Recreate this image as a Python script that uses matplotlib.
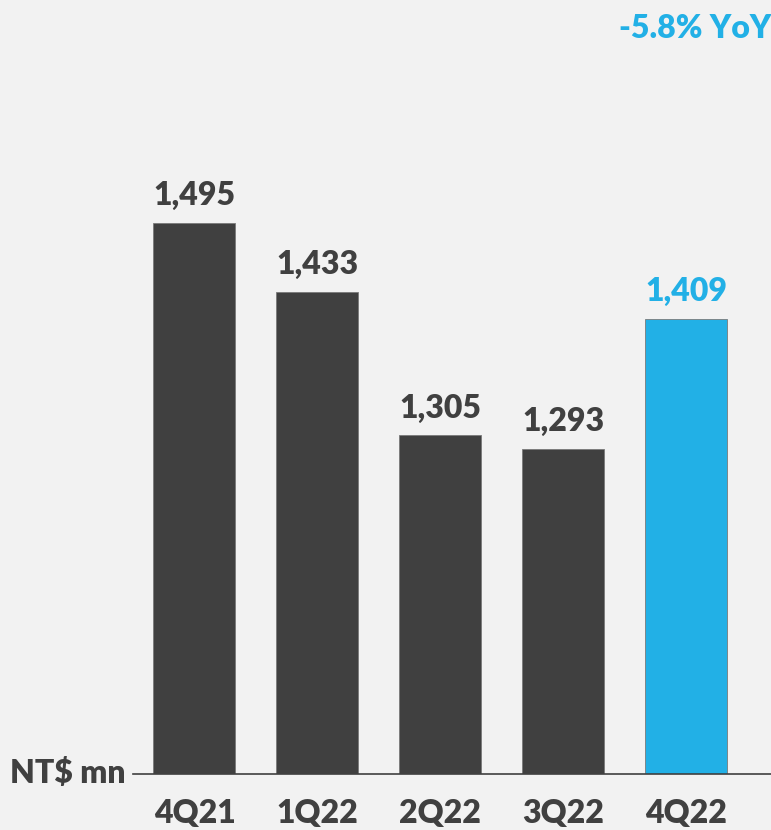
import matplotlib
matplotlib.use("Agg")
import matplotlib.pyplot as plt

categories = ["4Q21", "1Q22", "2Q22", "3Q22", "4Q22"]
values = [1495, 1433, 1305, 1293, 1409]
value_labels = ["1,495", "1,433", "1,305", "1,293", "1,409"]
bar_colors = ["#404040", "#404040", "#404040", "#404040", "#22b0e6"]
label_colors = ["#404040", "#404040", "#404040", "#404040", "#22b0e6"]
yoy_text = "-5.8% YoY"
unit_text = "NT$ mn"

FONT = ["Lato", "DejaVu Sans"]
BG = "#f2f2f2"
W = "heavy"

fig = plt.figure(figsize=(7.71, 8.30), dpi=100, facecolor=BG)
ax = fig.add_axes([133 / 771, 56 / 830, 1 - 133 / 771, 774 / 830])
ax.set_facecolor(BG)

x = list(range(len(categories)))
ax.bar(x, values, width=0.667, color=bar_colors, edgecolor="#7a7a7a", linewidth=0.6, zorder=2)
ax.set_xlim(-0.5, 4.69)
ax.set_ylim(1002, 1694)

for xi, v, lab, c in zip(x, values, value_labels, label_colors):
    ax.annotate(lab, (xi, v), xytext=(0, 9), textcoords="offset points",
                ha="center", va="bottom", fontsize=23, fontweight=W,
                color=c, family=FONT)

for s in ["top", "right", "left"]:
    ax.spines[s].set_visible(False)
ax.spines["bottom"].set_color("#404040")
ax.spines["bottom"].set_linewidth(1.2)
ax.set_yticks([])
ax.set_xticks(x)
ax.set_xticklabels(categories, fontsize=23, fontweight=W, color="#404040", family=FONT)
ax.tick_params(axis="x", length=0, pad=18)

fig.text(125 / 771, 1 - 773 / 830, unit_text, ha="right", va="center", fontsize=23,
         fontweight=W, color="#404040", family=FONT)
fig.text(771 / 771, 1 - 28 / 830, yoy_text, ha="right", va="center", fontsize=23,
         fontweight=W, color="#22b0e6", family=FONT)

fig.savefig("out.png", dpi=100, facecolor=BG)
